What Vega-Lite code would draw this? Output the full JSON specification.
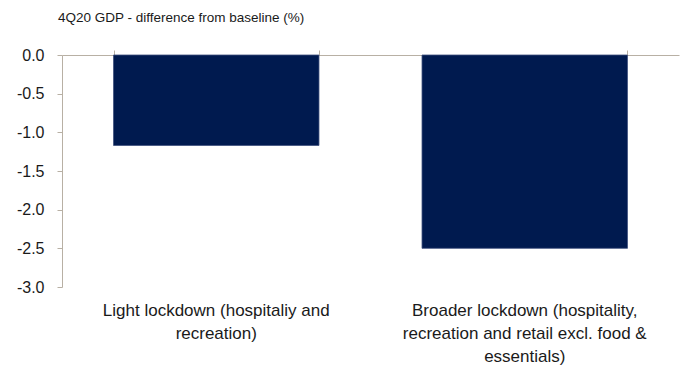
{
  "$schema": "https://vega.github.io/schema/vega-lite/v6.json",
  "autosize": {"type": "none"},
  "width": 617,
  "height": 232,
  "padding": {"left": 62, "top": 55, "right": 7, "bottom": 82},
  "background": "white",
  "title": {
    "text": "4Q20 GDP  - difference from baseline (%)",
    "anchor": "start",
    "frame": "group",
    "dx": -4,
    "offset": 23,
    "font": "Liberation Sans",
    "fontSize": 13.5,
    "fontWeight": "normal",
    "color": "#1a1a1a"
  },
  "data": {
    "values": [
      {"scenario": "Light lockdown (hospitaliy and|recreation)", "value": -1.17},
      {"scenario": "Broader lockdown (hospitality,|recreation and retail excl. food &|essentials)", "value": -2.5}
    ]
  },
  "config": {
    "view": {"stroke": null},
    "axis": {"grid": false, "domainColor": "#b8b0a4", "tickColor": "#b8b0a4", "labelFont": "Liberation Sans", "labelColor": "#1a1a1a", "titleFont": "Liberation Sans"}
  },
  "resolve": {"axis": {"x": "independent"}},
  "layer": [
    {
      "mark": {"type": "bar", "color": "#001a4f", "stroke": "#3d4f7c", "strokeWidth": 0.8},
      "encoding": {
        "x": {
          "field": "scenario", "type": "nominal", "sort": null,
          "scale": {"paddingInner": 0.334, "paddingOuter": 0.167},
          "axis": {
            "orient": "bottom", "title": null, "domain": false, "ticks": false,
            "labelAngle": 0, "labelFontSize": 17, "labelPadding": 15, "labelLineHeight": 23,
            "labelExpr": "split(datum.label, '|')", "labelLimit": 400
          }
        },
        "y": {
          "field": "value", "type": "quantitative",
          "scale": {"domain": [-3, 0], "nice": false},
          "axis": {
            "title": null, "values": [0, -0.5, -1, -1.5, -2, -2.5, -3], "tickCount": 7,
            "labelExpr": "replace(format(datum.value, '.1f'), '\u2212', '-')",
            "labelFontSize": 16, "tickSize": 5, "labelPadding": 13, "labelOverlap": false, "labelBound": false, "labelFlush": false
          }
        }
      }
    },
    {
      "mark": {"type": "bar", "opacity": 0},
      "encoding": {
        "x": {
          "field": "scenario", "type": "nominal", "sort": null,
          "axis": {
            "orient": "top", "title": null, "labels": false, "tickBand": "extent", "tickSize": 5
          }
        }
      }
    }
  ]
}
